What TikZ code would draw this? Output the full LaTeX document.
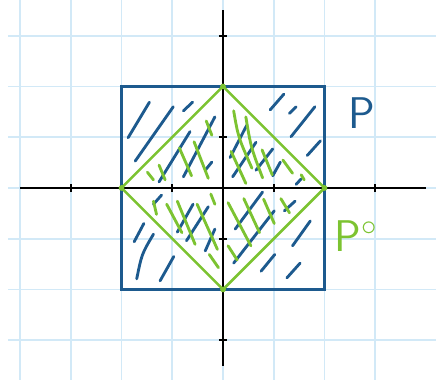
\documentclass[tikz,border=0pt]{standalone}
\usepackage{tikz}
\usetikzlibrary{calc}
\definecolor{gridblue}{HTML}{D2E9F7}
\definecolor{pblue}{HTML}{1D5A8E}
\definecolor{pgreen}{HTML}{7CC331}

\begin{document}
\begin{tikzpicture}[
  hatchB/.style={pblue, line width=1.6pt, line cap=round},
  hatchG/.style={pgreen, line width=1.6pt, line cap=round}]
  \useasboundingbox (-4.394,-3.842) rectangle (4.197,3.704);
  % grid paper
  \foreach \y in {-3,...,3} \draw[gridblue, line width=1pt] (-4.24,\y) -- (4.197,\y);
  \foreach \x in {-4,...,3.97} \draw[gridblue, line width=1pt] (\x,3.704) -- (\x,-3.78);
  % axes with ticks
  \draw[black, line width=1.6pt] (-4,0) -- (4,0);
  \draw[black, line width=1.6pt] (0,3.5) -- (0,-3.5);
  \foreach \t in {-3,-2,-1,1,2,3} {
    \draw[black, line width=1.2pt] (\t,-0.08) -- (\t,0.08);
    \draw[black, line width=1.2pt] (-0.08,\t) -- (0.08,\t);
  }
  % hatching of P (blue)
  \draw[hatchB] (-1.87,0.99) -- (-1.45,1.69);
  \draw[hatchB] (-1.73,0.53) -- (-0.98,1.60);
  \draw[hatchB] (-0.78,1.52) -- (-0.60,1.69);
  \draw[hatchB] (-1.26,0.12) -- (-0.65,1.11);
  \draw[hatchB] (-0.78,0.22) -- (-0.16,1.40);
  \draw[hatchB] (-0.35,0.35) -- (-0.22,0.51);
  \draw[hatchB] (0.93,1.54) -- (1.20,1.85);
  \draw[hatchB] (1.31,1.47) -- (1.44,1.60);
  \draw[hatchB] (1.34,1.01) -- (1.81,1.60);
  \draw[hatchB] (1.66,0.64) -- (1.92,0.93);
  \draw[hatchB] (0.14,0.60) -- (0.47,1.24);
  \draw[hatchB] (0.19,0.22) -- (0.65,0.90);
  \draw[hatchB] (0.65,0.35) -- (0.98,0.77);
  \draw[hatchB] (0.98,0.24) -- (1.13,0.51);
  \draw[hatchB] (1.44,0.07) -- (1.54,0.18);
  \draw[hatchB] (-1.37,-0.32) -- (-1.21,-0.14);
  \draw[hatchB] (-1.75,-1.06) -- (-1.56,-0.70);
  \draw[hatchB] (-1.70,-1.79) .. controls (-1.60,-1.30) .. (-1.37,-0.91);
  \draw[hatchB] (-1.24,-1.83) -- (-0.97,-1.35);
  \draw[hatchB] (-0.90,-0.87) -- (-0.59,-0.32);
  \draw[hatchB] (-0.72,-1.04) -- (-0.29,-0.37);
  \draw[hatchB] (-0.35,-1.24) -- (-0.16,-0.81);
  \draw[hatchB] (0.24,-0.81) -- (0.78,-0.08);
  \draw[hatchB] (0.21,-1.48) -- (1.01,-0.45);
  \draw[hatchB] (1.21,-0.45) -- (1.42,-0.26);
  \draw[hatchB] (1.37,-1.14) -- (1.72,-0.65);
  \draw[hatchB] (0.75,-1.64) -- (1.02,-1.31);
  \draw[hatchB] (1.26,-1.77) -- (1.52,-1.48);
  % hatching of P° (green)
  \draw[hatchG] (-1.49,0.31) -- (-1.37,0.16);
  \draw[hatchG] (-1.26,0.45) -- (-1.14,0.16);
  \draw[hatchG] (-0.86,0.79) -- (-0.62,0.24);
  \draw[hatchG] (-0.57,0.91) -- (-0.29,0.19);
  \draw[hatchG] (-0.33,1.32) -- (-0.22,1.04);
  \draw[hatchG] (0.21,1.52) .. controls (0.30,1.00) .. (0.57,0.39);
  \draw[hatchG] (0.45,1.40) .. controls (0.55,0.80) .. (0.78,0.20);
  \draw[hatchG] (0.16,0.72) -- (0.45,0.09);
  \draw[hatchG] (0.77,0.75) -- (0.97,0.26);
  \draw[hatchG] (1.18,0.55) -- (1.37,0.29);
  \draw[hatchG] (1.54,0.26) -- (1.60,0.16);
  \draw[hatchG] (-1.37,-0.26) -- (-1.31,-0.52);
  \draw[hatchG] (-1.11,-0.32) -- (-0.81,-0.88);
  \draw[hatchG] (-0.90,-0.26) -- (-0.55,-1.11);
  \draw[hatchG] (-0.51,-0.32) -- (-0.11,-1.21);
  \draw[hatchG] (-0.24,-0.12) -- (-0.16,-0.32);
  \draw[hatchG] (-0.27,-1.31) -- (-0.09,-1.57);
  \draw[hatchG] (0.10,-1.14) -- (0.28,-1.42);
  \draw[hatchG] (0.10,-0.29) -- (0.55,-1.14);
  \draw[hatchG] (0.41,-0.21) -- (0.72,-0.88);
  \draw[hatchG] (0.80,-0.22) -- (1.01,-0.70);
  \draw[hatchG] (1.14,-0.21) -- (1.31,-0.49);
  % the square P and the diamond P°
  \draw[pblue, line width=1.4pt] (-2,-2) rectangle (2,2);
  \coordinate (top) at (0,2);
  \coordinate (rgt) at (2,0);
  \coordinate (bot) at (0,-2);
  \coordinate (lft) at (-2,0);
  \draw[pgreen, line width=1.4pt, line join=round] (top) -- (rgt) -- (bot) -- (lft) -- cycle;
  \foreach \v in {top,rgt,bot,lft} \fill[pgreen] (\v) circle (1.6pt);
  % labels
  \node[pblue, font=\Huge\sffamily] (labP) at (2.74,1.48) {P};
  \node[pgreen, font=\Huge\sffamily] (labPo) at (2.62,-0.95) {P$^{\scriptscriptstyle\circ}$};
\end{tikzpicture}
\end{document}
